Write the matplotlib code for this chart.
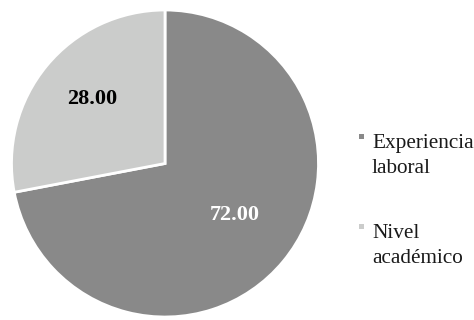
import numpy as np
import matplotlib.pyplot as plt
from matplotlib.patches import Rectangle

categories = ['Experiencia\nlaboral', 'Nivel\nacadémico']
values = [72.00, 28.00]
colors = ['#898989', '#cbcccb']
label_colors = ['white', 'black']

plt.rcParams['font.family'] = ['Liberation Serif', 'DejaVu Serif']

W, H = 474, 320
fig = plt.figure(figsize=(W / 100, H / 100), dpi=100)

# pie centred at (165, 163.5) px, radius ~153.5 px
cx, cy, r = 165, 163.5, 153.5
ax = fig.add_axes([(cx - r) / W, (H - cy - r) / H, 2 * r / W, 2 * r / H])

wedges, _ = ax.pie(values, colors=colors, startangle=90, counterclock=False,
                   wedgeprops=dict(edgecolor='white', linewidth=2))
ax.set_xlim(-1, 1)
ax.set_ylim(-1, 1)
ax.set_aspect('equal')

# value labels inside each wedge (angle tweak, radial distance)
offsets = [(3.3, 0.565), (-1.9, 0.63)]
for w, v, c, (dang, dist) in zip(wedges, values, label_colors, offsets):
    ang = np.deg2rad((w.theta1 + w.theta2) / 2 + dang)
    ax.text(dist * np.cos(ang), dist * np.sin(ang), f'{v:.2f}',
            ha='center', va='center', fontsize=16, fontweight='bold', color=c)

# legend: small square + text lines, square level with the first line
first_baseline = [148, 238]
line_step = 25
for cat, col, yb in zip(categories, colors, first_baseline):
    fig.add_artist(Rectangle((359 / W, 1 - 139 / H - (yb - 148) / H), 5 / W, 5 / H,
                             transform=fig.transFigure, facecolor=col, edgecolor='none'))
    for i, line in enumerate(cat.split('\n')):
        fig.text(372 / W, 1 - (yb + i * line_step) / H, line, ha='left',
                 va='baseline', fontsize=15.3, color='#1a1a1a')

fig.savefig('out.png', dpi=100)
